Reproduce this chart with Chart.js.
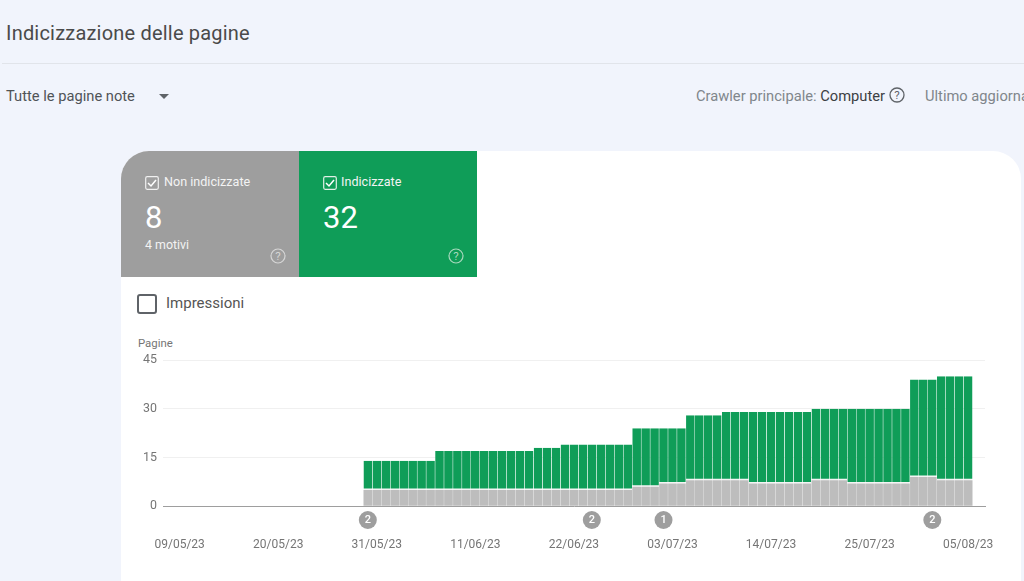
<!DOCTYPE html>
<html lang="it">
<head>
<meta charset="utf-8">
<title>Indicizzazione delle pagine</title>
<script src="https://cdn.jsdelivr.net/npm/chart.js@4/dist/chart.umd.js"></script>
<style>
html, body { margin: 0; height: 100%; overflow: hidden; }
body { background: #f1f4fc; font-family: Roboto, sans-serif; color: #5f6368; position: relative; width: 1024px; height: 581px; }
.txt { position: absolute; white-space: nowrap; line-height: 1; }
#titolo { left: 6px; top: 23px; font-size: 20px; color: #4a4a4a; letter-spacing: .2px; }
#divisore { position: absolute; left: 2px; right: 0; top: 63px; height: 1px; background: #e1e4ea; }
#filtro { left: 6px; top: 89px; font-size: 14.7px; color: #4f5357; }
#freccia { position: absolute; left: 159px; top: 94px; width: 0; height: 0; border-left: 5.5px solid transparent; border-right: 5.5px solid transparent; border-top: 5px solid #5f6368; }
#crawler { left: 696px; top: 88.5px; font-size: 14.7px; color: #80868b; }
#crawler b { font-weight: 400; color: #3c4043; }
#aggiornamento { left: 925px; top: 88.5px; font-size: 14.7px; color: #80868b; }
#card { position: absolute; left: 121px; top: 151px; width: 900px; height: 460px; background: #fff; border-radius: 28px; overflow: hidden; }
.tile { position: absolute; top: 0; width: 178px; height: 126px; color: #fff; }
#tileGrigio { left: 0; background: #9e9e9e; }
#tileVerde { left: 178px; background: #0f9d58; }
.check { position: absolute; left: 24px; top: 25px; }
.tile .nome { left: 43px; top: 25px; font-size: 12.6px; color: #f3f3f3; }
.tile .num { left: 24px; top: 51px; font-size: 31px; }
.tile .sotto { left: 24px; top: 88px; font-size: 12.4px; color: #f3f3f3; }
.aiuto { position: absolute; left: 149px; top: 97px; }
#boxImpressioni { position: absolute; left: 16px; top: 143px; width: 16px; height: 16px; border: 2px solid #5f6368; border-radius: 3px; }
#impressioni { left: 45px; top: 145px; font-size: 15px; color: #555; }
#pagine { left: 17px; top: 187px; font-size: 11.4px; color: #757575; }
#grafico { position: absolute; left: 0; top: 179px; }
#aiutoCrawler { position: absolute; left: 889px; top: 87px; }
</style>
</head>
<body>
<div class="txt" id="titolo">Indicizzazione delle pagine</div>
<div id="divisore"></div>
<div class="txt" id="filtro">Tutte le pagine note</div>
<div id="freccia"></div>
<div class="txt" id="crawler">Crawler principale: <b>Computer</b></div>
<svg id="aiutoCrawler" width="16" height="16" viewBox="0 0 16 16"><circle cx="8" cy="8" r="7" fill="none" stroke="#5f6368" stroke-width="1.3"/><text x="8" y="12" font-size="11.5" text-anchor="middle" fill="#5f6368" font-family="Roboto">?</text></svg>
<div class="txt" id="aggiornamento">Ultimo aggiornamento</div>

<div id="card">
  <div class="tile" id="tileGrigio">
    <svg class="check" width="14" height="14" viewBox="0 0 14 14"><rect x=".7" y=".7" width="12.6" height="12.6" rx="1.5" fill="none" stroke="#f0f0f0" stroke-width="1.2"/><path d="M3 7l3 3 5-6" fill="none" stroke="#fff" stroke-width="1.5"/></svg>
    <div class="txt nome">Non indicizzate</div>
    <div class="txt num">8</div>
    <div class="txt sotto">4 motivi</div>
    <svg class="aiuto" width="16" height="16" viewBox="0 0 16 16"><circle cx="8" cy="8" r="7" fill="none" stroke="#d6d6d6" stroke-width="1.2"/><text x="8" y="12" font-size="11.5" text-anchor="middle" fill="#d6d6d6" font-family="Roboto">?</text></svg>
  </div>
  <div class="tile" id="tileVerde">
    <svg class="check" width="14" height="14" viewBox="0 0 14 14"><rect x=".7" y=".7" width="12.6" height="12.6" rx="1.5" fill="none" stroke="#e0f0e6" stroke-width="1.2"/><path d="M3 7l3 3 5-6" fill="none" stroke="#fff" stroke-width="1.5"/></svg>
    <div class="txt nome" style="left:42px">Indicizzate</div>
    <div class="txt num">32</div>
    <svg class="aiuto" width="16" height="16" viewBox="0 0 16 16"><circle cx="8" cy="8" r="7" fill="none" stroke="#a8d8bd" stroke-width="1.2"/><text x="8" y="12" font-size="11.5" text-anchor="middle" fill="#a8d8bd" font-family="Roboto">?</text></svg>
  </div>
  <div id="boxImpressioni"></div>
  <div class="txt" id="impressioni">Impressioni</div>
  <div class="txt" id="pagine">Pagine</div>
  <canvas id="grafico" width="900" height="230"></canvas>
</div>

<script>
// Dati
const giorni = [
    '30/05/23', '31/05/23', '01/06/23', '02/06/23', '03/06/23', '04/06/23', '05/06/23', '06/06/23',
    '07/06/23', '08/06/23', '09/06/23', '10/06/23', '11/06/23', '12/06/23', '13/06/23', '14/06/23',
    '15/06/23', '16/06/23', '17/06/23', '18/06/23', '19/06/23', '20/06/23', '21/06/23', '22/06/23',
    '23/06/23', '24/06/23', '25/06/23', '26/06/23', '27/06/23', '28/06/23', '29/06/23', '30/06/23',
    '01/07/23', '02/07/23', '03/07/23', '04/07/23', '05/07/23', '06/07/23', '07/07/23', '08/07/23',
    '09/07/23', '10/07/23', '11/07/23', '12/07/23', '13/07/23', '14/07/23', '15/07/23', '16/07/23',
    '17/07/23', '18/07/23', '19/07/23', '20/07/23', '21/07/23', '22/07/23', '23/07/23', '24/07/23',
    '25/07/23', '26/07/23', '27/07/23', '28/07/23', '29/07/23', '30/07/23', '31/07/23', '01/08/23',
    '02/08/23', '03/08/23', '04/08/23', '05/08/23'
];
const nonIndicizzate = [
    5, 5, 5, 5, 5, 5, 5, 5,
    5, 5, 5, 5, 5, 5, 5, 5, 5, 5, 5,
    5, 5, 5,
    5, 5, 5, 5, 5, 5, 5, 5,
    6, 6, 6,
    7, 7, 7,
    8, 8, 8, 8, 8, 8, 8,
    7, 7, 7, 7, 7, 7, 7,
    8, 8, 8, 8,
    7, 7, 7, 7, 7, 7, 7,
    9, 9, 9,
    8, 8, 8, 8
];
const indicizzate = [
    9, 9, 9, 9, 9, 9, 9, 9,
    12, 12, 12, 12, 12, 12, 12, 12, 12, 12, 12,
    13, 13, 13,
    14, 14, 14, 14, 14, 14, 14, 14,
    18, 18, 18,
    17, 17, 17,
    20, 20, 20, 20,
    21, 21, 21,
    22, 22, 22, 22, 22, 22, 22,
    22, 22, 22, 22,
    23, 23, 23, 23, 23, 23, 23,
    30, 30, 30,
    32, 32, 32, 32
];
const dateAsse = ['09/05/23', '20/05/23', '31/05/23', '11/06/23', '22/06/23', '03/07/23', '14/07/23', '25/07/23', '05/08/23'];
const tickPagine = [0, 15, 30, 45];
const annotazioni = [
    { data: '30/05/23', numero: '2' },
    { data: '24/06/23', numero: '2' },
    { data: '02/07/23', numero: '1' },
    { data: '01/08/23', numero: '2' }
];

// Giorni trascorsi dalla prima data dell'asse
function giornoAsse(testo) {
    const [g, m, a] = testo.split('/').map(Number);
    return (Date.UTC(2000 + a, m - 1, g) - Date.UTC(2023, 4, 9)) / 86400000;
}

// Cerchietti con il numero di annotazioni sotto l'asse
const pluginAnnotazioni = {
    id: 'annotazioni',
    afterDraw(chart) {
        const { ctx, scales } = chart;
        const y = scales.y.getPixelForValue(0) + 13.7;
        ctx.save();
        ctx.textAlign = 'center';
        ctx.textBaseline = 'middle';
        ctx.font = '500 11px Roboto';
        annotazioni.forEach(a => {
            const x = scales.x.getPixelForValue(giornoAsse(a.data));
            ctx.fillStyle = '#9e9e9e';
            ctx.beginPath();
            ctx.arc(x, y, 9, 0, Math.PI * 2);
            ctx.fill();
            ctx.fillStyle = '#fff';
            ctx.fillText(a.numero, x, y + 0.5);
        });
        ctx.restore();
    }
};

new Chart(document.getElementById('grafico'), {
    type: 'bar',
    data: {
        datasets: [
            {
                label: 'Non indicizzate',
                stack: 'pagine',
                data: giorni.map((g, i) => ({ x: giornoAsse(g), y: nonIndicizzate[i] })),
                backgroundColor: '#bdbdbd',
                borderWidth: 0,
            },
            {
                label: 'Indicizzate',
                stack: 'pagine',
                data: giorni.map((g, i) => ({ x: giornoAsse(g), y: indicizzate[i] })),
                backgroundColor: '#0f9d58',
                borderColor: '#f4f4f4',
                borderWidth: { bottom: 1.5, top: 0, left: 0, right: 0 },
                borderSkipped: false,
            }
        ]
    },
    options: {
        responsive: false,
        animation: false,
        barPercentage: 0.97,
        categoryPercentage: 1,
        layout: { padding: { left: 0, right: 36, top: 30, bottom: 0 } },
        plugins: { legend: { display: false }, tooltip: { enabled: false } },
        scales: {
            x: {
                type: 'linear',
                stacked: true,
                offset: false,
                min: -1.86,
                max: 89.88,
                grid: { display: false, drawTicks: false, offset: false },
                border: { color: '#9e9e9e', width: 1 },
                afterBuildTicks: scale => {
                    scale.ticks = dateAsse.map(d => ({ value: giornoAsse(d), label: d }));
                },
                afterTickToLabelConversion: scale => {
                    scale.ticks.forEach((t, i) => { t.label = dateAsse[i]; });
                },
                afterFit: scale => {
                    // l'ultima etichetta non deve restringere l'area del grafico
                    scale.height = 53.7;
                    scale.paddingLeft = 0;
                    scale.paddingRight = 0;
                },
                ticks: {
                    autoSkip: false,
                    maxRotation: 0,
                    padding: 31,
                    color: '#757575',
                    font: { family: 'Roboto', size: 12 },
                }
            },
            y: {
                stacked: true,
                min: 0,
                max: 45,
                afterBuildTicks: scale => {
                    scale.ticks = tickPagine.map(v => ({ value: v }));
                },
                afterFit: scale => { scale.width = 42; },
                grid: { color: '#f0f0f0', drawTicks: false },
                border: { display: false },
                ticks: {
                    padding: 6,
                    color: '#757575',
                    font: { family: 'Roboto', size: 12.4 },
                }
            }
        }
    },
    plugins: [pluginAnnotazioni]
});
</script>
</body>
</html>
